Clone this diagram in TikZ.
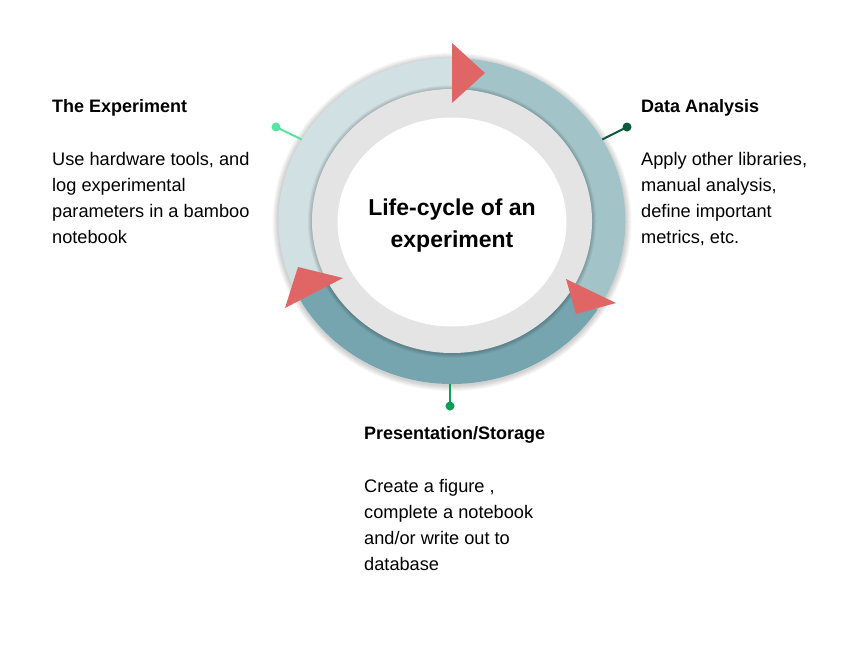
\documentclass[tikz,border=0pt]{standalone}
\usepackage{fontspec}
\setmainfont{Liberation Sans}
\usetikzlibrary{positioning}
\definecolor{ringlight}{HTML}{D0E0E3}
\definecolor{ringmid}{HTML}{A2C4C9}
\definecolor{ringdark}{HTML}{76A5AF}
\definecolor{ringgray}{HTML}{E4E4E4}
\definecolor{arrowred}{HTML}{E06666}
\definecolor{pinlight}{HTML}{57E3A0}
\definecolor{pindark}{HTML}{0B5D3A}
\definecolor{pinmid}{HTML}{0F9D58}

\begin{document}
\begin{tikzpicture}[
    x=1pt, y=1pt,
    head/.style={anchor=base west, inner sep=0pt, font=\fontsize{18}{26}\selectfont\bfseries},
    body/.style={anchor=base west, inner sep=0pt, align=left, font=\fontsize{18.2}{26}\selectfont},
    pin/.style={circle, fill, inner sep=0pt, minimum size=9pt},
    stem/.style={line width=2pt},
    tri/.style={fill=arrowred},
    haze/.style={fill=black, opacity=0.03}
]
\useasboundingbox[fill=white] (0,0) rectangle (842,649);

% ring
\coordinate (c) at (452,428);
\foreach \d in {1,...,6}
    \fill[haze] (452,427) ellipse [x radius=173.5+\d, y radius=163+\d];
\fill[ringlight] (c) ellipse [x radius=173.5, y radius=163];
\fill[ringmid] (c) -- +(90:173.5 and 163) arc[start angle=90, end angle=-33, x radius=173.5, y radius=163] -- cycle;
\fill[ringdark] (c) -- +(-33:173.5 and 163) arc[start angle=-33, end angle=-155, x radius=173.5, y radius=163] -- cycle;
\foreach \d in {1,...,4}
    \fill[haze, opacity=0.05] (452,427.5) ellipse [x radius=140+\d, y radius=132+\d];
\fill[ringgray] (c) ellipse [x radius=140, y radius=132];
\fill[white] (452,427) ellipse [x radius=114.5, y radius=104.5];

\fill[tri] (452,606) -- (452,546) -- (485,576) -- cycle;
\fill[tri] (566,370) -- (576,335) -- (616,346) -- cycle;
\fill[tri] (298,382) -- (285,341) -- (343,371) -- cycle;

\node[font=\fontsize{23}{32}\selectfont\bfseries, align=center, anchor=base] (title) at (452,402) {Life-cycle of an\\ experiment};

% pins
\path (c) ++(150:173.5 and 163) coordinate (tlend);
\path (c) ++(30:173.5 and 163) coordinate (trend);
\path (c) ++(270:173.5 and 163) coordinate (bend);
\node[pin, pinlight] (tlpin) at (276,522) {};
\node[pin, pindark] (trpin) at (627,522) {};
\node[pin, pinmid] (bpin) at (450,243) {};
\draw[stem, pinlight] (tlpin.center) -- (tlend);
\draw[stem, pindark] (trpin.center) -- (trend);
\draw[stem, pinmid] (bpin.center) -- (bend -| bpin);

% texts
\node[head] (exphead) at (52,536) {The Experiment};
\node[body] (expbody) at ([yshift=-130pt]exphead.base west) {Use hardware tools, and\\ log experimental\\ parameters in a bamboo\\ notebook};
\node[head] (anahead) at (641,536) {Data Analysis};
\node[body] (anabody) at ([yshift=-130pt]anahead.base west) {Apply other libraries,\\ manual analysis,\\ define important\\ metrics, etc.};
\node[head] (prshead) at (364,210) {Presentation/Storage};
\node[body] (prsbody) at ([yshift=-131pt]prshead.base west) {Create a figure ,\\ complete a notebook\\ and/or write out to\\ database};
\end{tikzpicture}
\end{document}
